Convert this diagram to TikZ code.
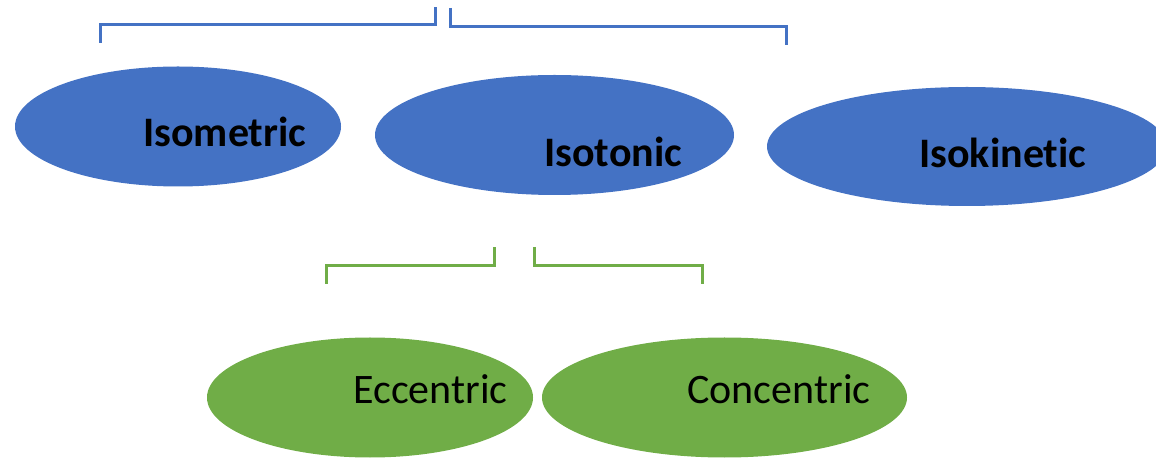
\documentclass[tikz,border=0pt]{standalone}
\usepackage{fontspec}
\setmainfont{Carlito}[Ligatures={NoCommon}]
\usetikzlibrary{shapes.geometric}
\definecolor{ovalblue}{RGB}{68,114,196}
\definecolor{ovalgreen}{RGB}{112,173,71}
\tikzset{
  oval/.style={ellipse, draw=none, inner sep=0pt, outer sep=0pt, minimum height=60pt},
  word/.style={anchor=base west, inner sep=0pt, font=\fontsize{21}{25}\selectfont},
  bracket/.style={line width=1.5pt}
}

\begin{document}
\begin{tikzpicture}[x=0.5pt, y=-0.5pt]

    \useasboundingbox (0,0) rectangle (1156,459);
    \clip (0,0) rectangle (1156,459);

    % upper row
    \node[oval, fill=ovalblue, minimum width=163pt] (isometric) at (178,126.5) {};
    \node[oval, fill=ovalblue, minimum width=179.5pt] (isotonic) at (554.5,135) {};
    \node[oval, fill=ovalblue, minimum width=200pt, minimum height=59.5pt] (isokinetic) at (967,146.5) {};
    \node[word] (isometric-txt) at (143,147) {\bfseries Isometric};
    \node[word] (isotonic-txt) at (544,167) {\bfseries Isotonic};
    \node[word] (isokinetic-txt) at (919,168) {\bfseries Isokinetic};

    % lower row
    \node[oval, fill=ovalgreen, minimum width=163pt] (eccentric) at (370,397.5) {};
    \node[oval, fill=ovalgreen, minimum width=182.5pt] (concentric) at (724.5,397.5) {};
    \node[word] (eccentric-txt) at (353,403) {Eccentric};
    \node[word] (concentric-txt) at (687,403) {Concentric};

    % brackets
    \coordinate (bl1) at (100,43);
    \coordinate (bl2) at (435,7);
    \coordinate (br1) at (450,8);
    \coordinate (br2) at (786,45);
    \draw[bracket, ovalblue] (bl1) -- ++(0,-18) -| (bl2);
    \draw[bracket, ovalblue] (br1) -- ++(0,19) -| (br2);

    \coordinate (gl1) at (326,284);
    \coordinate (gl2) at (494,247);
    \coordinate (gr1) at (534,247);
    \coordinate (gr2) at (702,284);
    \draw[bracket, ovalgreen] (gl1) -- ++(0,-18) -| (gl2);
    \draw[bracket, ovalgreen] (gr1) -- ++(0,19) -| (gr2);

\end{tikzpicture}
\end{document}
